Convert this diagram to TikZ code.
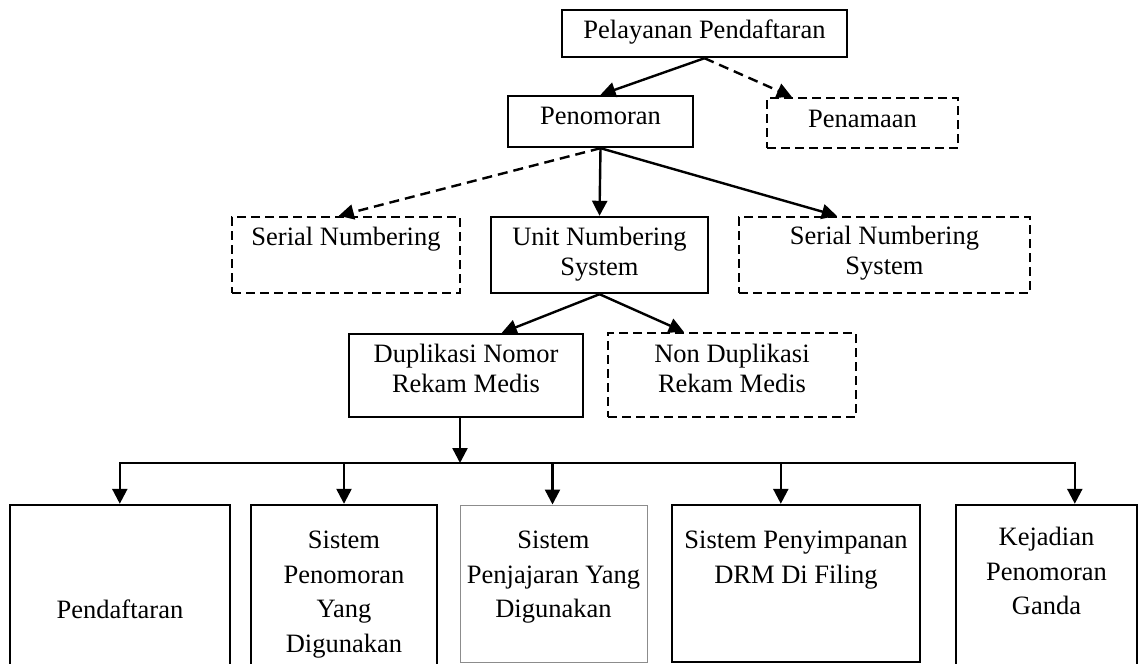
\documentclass[tikz,border=0pt]{standalone}
\usepackage{fontspec}
\setmainfont{Liberation Serif}
\usetikzlibrary{arrows.meta,calc}
\begin{document}
\begin{tikzpicture}[x=1pt,y=-1pt,
  box/.style={draw=black,line width=2.4pt,inner sep=0pt},
  dbox/.style={box,dash pattern=on 9pt off 5pt},
  tbox/.style={draw=black!45,line width=1pt,inner sep=0pt},
  arr/.style={line width=2.4pt,-{Triangle[length=15pt,width=15pt]}},
  darr/.style={arr,dash pattern=on 10pt off 6pt},
  txt/.style={font=\fontsize{26.5}{30.5}\selectfont,align=center,inner sep=0pt,anchor=north},
  btxt/.style={font=\fontsize{26.5}{34.5}\selectfont,align=center,inner sep=0pt,anchor=north}]
\clip (0,0) rectangle (1144,664);
\fill[white] (0,0) rectangle (1144,664);
% boxes
\node[box,minimum width=285pt,minimum height=47pt] (top) at (704.5,33.5) {};
\node[box,minimum width=185pt,minimum height=51pt] (pen) at (600.5,121.5) {};
\node[dbox,minimum width=191pt,minimum height=50pt] (nam) at (862.5,123) {};
\node[dbox,minimum width=228pt,minimum height=76pt] (sn) at (346,255) {};
\node[box,minimum width=217pt,minimum height=76pt] (uns) at (599.5,255) {};
\node[dbox,minimum width=291pt,minimum height=76pt] (sns) at (884.5,255) {};
\node[box,minimum width=234pt,minimum height=83pt] (dup) at (466,375.5) {};
\node[dbox,minimum width=248pt,minimum height=84pt] (ndup) at (732,375) {};
\node[box,minimum width=220pt,minimum height=195pt] (b1) at (120,602.5) {};
\node[box,minimum width=186pt,minimum height=195pt] (b2) at (344,602.5) {};
\node[tbox,minimum width=187pt,minimum height=157pt] (b3) at (553.5,583.5) {};
\node[box,minimum width=248pt,minimum height=157pt] (b4) at (796,583.5) {};
\node[box,minimum width=181pt,minimum height=195pt] (b5) at (1046.5,602.5) {};
% texts
\node[txt] (ttop) at (704.5,16.5) {\strut Pelayanan Pendaftaran};
\node[txt] (tpen) at (600.5,102.5) {\strut Penomoran};
\node[txt] (tnam) at (862.5,105.5) {\strut Penamaan};
\node[txt] (tsn) at (346,223.5) {\strut Serial Numbering};
\node[txt] (tuns) at (599.5,223.5) {\strut Unit Numbering\\System};
\node[txt] (tsns) at (884.5,222.5) {\strut Serial Numbering\\System};
\node[txt] (tdup) at (466,340.5) {\strut Duplikasi Nomor\\Rekam Medis};
\node[txt] (tndup) at (732,340.5) {\strut Non Duplikasi\\Rekam Medis};
\node[btxt] (tb1) at (120,594.5) {\strut Pendaftaran};
\node[btxt] (tb2) at (344,524.5) {\strut Sistem\\Penomoran\\Yang\\Digunakan};
\node[btxt] (tb3) at (553.5,524.5) {\strut Sistem\\Penjajaran Yang\\Digunakan};
\node[btxt] (tb4) at (796,524.5) {\strut Sistem Penyimpanan\\DRM Di Filing};
\node[btxt] (tb5) at (1046.5,521.5) {\strut Kejadian\\Penomoran\\Ganda};
% connectors
\draw[arr] (top.south) -- (pen.north);
\draw[darr] (top.south) -- ($(nam.north west)+(26,0)$);
\draw[darr] (pen.south) -- ($(sn.north west)+(108,0)$);
\draw[arr] (pen.south) -- (uns.north);
\draw[arr] (pen.south) -- ($(sns.north west)+(99,0)$);
\draw[arr] (uns.south) -- ($(dup.north west)+(154,0)$);
\draw[arr] (uns.south) -- ($(ndup.north west)+(77,0)$);
\coordinate (j) at (460,463);
\coordinate (t1) at ($(b1.north west)+(111,0)$);
\coordinate (t2) at (b2.north);
\coordinate (t3) at ($(b3.north west)+(93,0)$);
\coordinate (t4) at ($(b4.north west)+(110,0)$);
\coordinate (t5) at ($(b5.north west)+(120,0)$);
\draw[arr] (j |- dup.south) -- (j);
\draw[arr] (j) -| (t1);
\draw[arr] (j) -| (t5);
\draw[arr] (t2 |- j) -- (t2);
\draw[arr] (t3 |- j) -- (t3);
\draw[arr] (t4 |- j) -- (t4);
\end{tikzpicture}
\end{document}
